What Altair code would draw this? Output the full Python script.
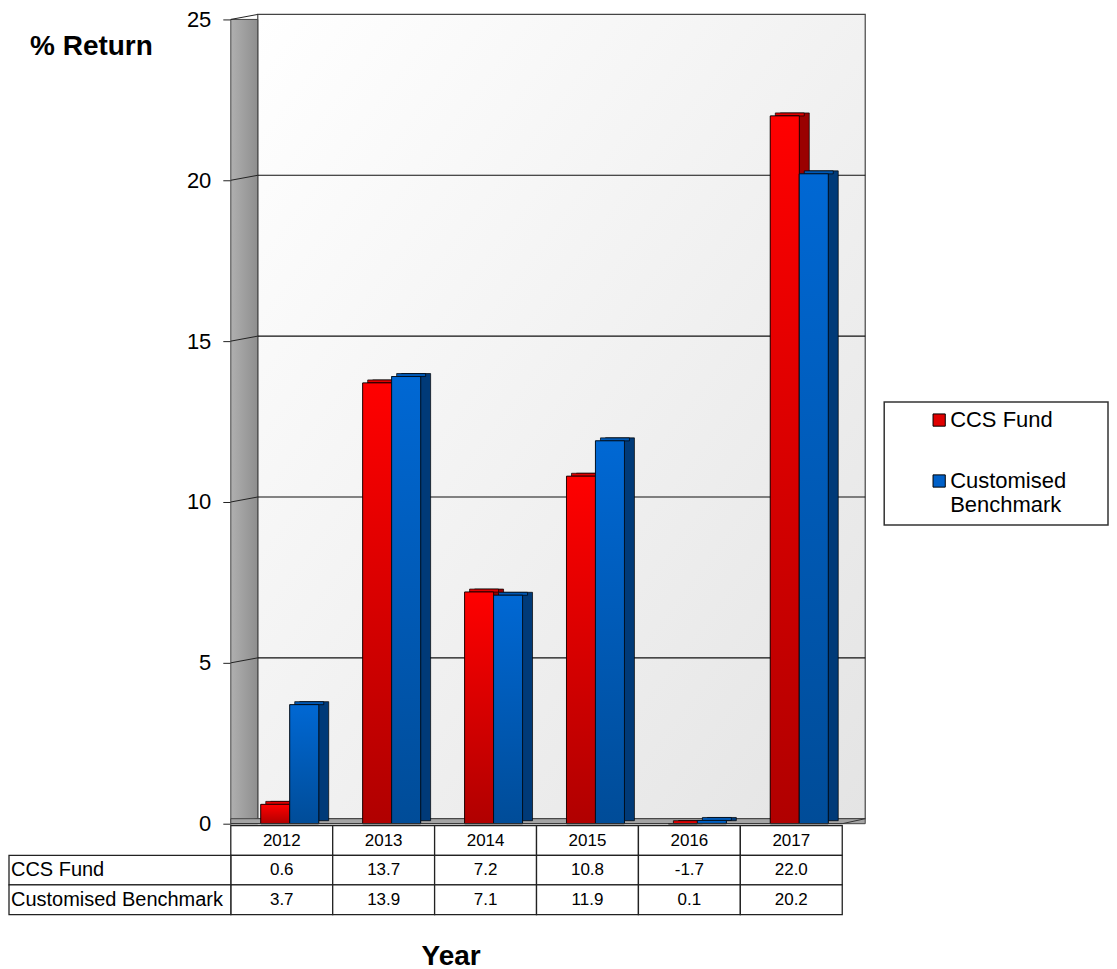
import altair as alt
import pandas as pd

# ---------------- data ----------------
years = ["2012", "2013", "2014", "2015", "2016", "2017"]
ccs_fund = [0.6, 13.7, 7.2, 10.8, -1.7, 22.0]
benchmark = [3.7, 13.9, 7.1, 11.9, 0.1, 20.2]
series_names = ["CCS Fund", "Customised Benchmark"]
y_ticks = [0, 5, 10, 15, 20, 25]

FONT = "Liberation Sans"
RED, BLUE = "#e00000", "#0060c8"

bars = pd.DataFrame({
    "year": years * 2,
    "series": [series_names[0]] * len(years) + [series_names[1]] * len(years),
    "value": ccs_fund + benchmark,
})
one = pd.DataFrame({"k": [0]})
ticks_df = pd.DataFrame({"v": y_ticks})
grid_df = pd.DataFrame({"v": y_ticks[1:-1]})

x_scale = alt.Scale(domain=years, paddingInner=0, paddingOuter=0)
y_scale = alt.Scale(domain=[0, 25], clamp=True, nice=False)
X = alt.X("year:N", scale=x_scale, axis=None)

Y_AXIS = alt.Axis(
    values=y_ticks, domain=False, grid=False, tickSize=8, tickColor="#222",
    labelFontSize=22, labelFont=FONT, labelColor="black", labelPadding=12,
    title="% Return", titleAngle=0, titleFont=FONT, titleFontSize=28,
    titleFontWeight="bold", titleColor="black", titleX=-140, titleY=27,
    titleAlign="center", titleBaseline="middle")


def Yq(field):
    return alt.Y(field, type="quantitative", scale=y_scale, axis=Y_AXIS)


def grad(c1, c2, x2=0, y2=1):
    return alt.Gradient(
        gradient="linear",
        stops=[alt.GradientStop(color=c1, offset=0), alt.GradientStop(color=c2, offset=1)],
        x1=0, y1=0, x2=x2, y2=y2,
    )


# ---------------- walls ----------------
back_wall = alt.Chart(one).mark_rect(
    fill=grad("#ffffff", "#e4e4e4", x2=1, y2=1), stroke="#444", strokeWidth=1.2
).encode(x=alt.value(27), x2=alt.value(635), y=alt.value(-5), y2=alt.value(800))

left_wall = alt.Chart(one).mark_rect(
    fill=grad("#b0b0b0", "#8e8e8e", x2=1, y2=0), stroke="#444", strokeWidth=1
).encode(
    x=alt.value(0), x2=alt.value(27), y=alt.value(0), y2=alt.value(805),
)

floor = alt.Chart(one).mark_rect(fill="#a4a4a4", stroke="#444", strokeWidth=1).encode(
    x=alt.value(0), x2=alt.value(635), y=alt.value(800), y2=alt.value(805)
)

grid = alt.Chart(grid_df).mark_rule(color="#111", strokeWidth=1.1, yOffset=-5).encode(
    y=Yq("v"), x=alt.value(27), x2=alt.value(635)
)
slants = alt.Chart(ticks_df).mark_rule(color="#222", strokeWidth=1, y2Offset=-5).encode(
    y=Yq("v"), y2="v:Q", x=alt.value(0), x2=alt.value(27)
)

legend_box = alt.Chart(one).mark_rect(fill="white", stroke="#333", strokeWidth=1.5).encode(
    x=alt.value(654), x2=alt.value(878), y=alt.value(383), y2=alt.value(506)
)

# ---------------- bars ----------------
styles = {
    series_names[0]: dict(dx=-6.5, front=("#ff0000", "#b00000"), side="#9a0000", top="#e00000"),
    series_names[1]: dict(dx=22.5, front=("#0068d4", "#004c98"), side="#003a78", top="#0058b4"),
}
W = 29
bar_layers = []
for s in series_names:
    st = styles[s]
    base = alt.Chart(bars).transform_filter(alt.datum.series == s)
    side = base.mark_bar(width=W, xOffset=st["dx"] + 10, yOffset=-3, y2Offset=-3,
                         color=st["side"], stroke="black", strokeWidth=0.7).encode(
        x=X, y=Yq("value"), y2=alt.datum(0))
    top = base.mark_bar(width=W, xOffset=st["dx"] + 5, yOffset=-3, y2Offset=0,
                        color=st["top"], stroke="black", strokeWidth=0.7).encode(
        x=X, y=Yq("value"), y2="value:Q")
    solid = base.mark_bar(width=W, xOffset=st["dx"], stroke="black", strokeWidth=0.7).encode(
        x=X, y=Yq("value"), y2=alt.datum(0),
        color=alt.Color("series:N", scale=alt.Scale(domain=series_names, range=[RED, BLUE]),
                        legend=alt.Legend(
                            orient="none", legendX=698, legendY=390, title=None,
                            labelFontSize=22, labelFont=FONT, labelColor="black",
                            symbolType="square", symbolSize=150, symbolStrokeColor="black",
                            symbolStrokeWidth=1, symbolOpacity=1, rowPadding=39,
                            labelLimit=300, labelOffset=0,
                            labelExpr="datum.label == 'Customised Benchmark' ? ['Customised', 'Benchmark'] : datum.label")))
    gfront = base.mark_bar(width=W, xOffset=st["dx"], fill=grad(*st["front"]),
                           stroke="black", strokeWidth=0.7).encode(
        x=X, y=Yq("value"), y2=alt.datum(0))
    bar_layers += [side, top, solid, gfront]

front_edge = alt.Chart(one).mark_rule(color="#333", strokeWidth=1).encode(
    x=alt.value(0), x2=alt.value(612), y=alt.value(805))
right_slant = alt.Chart(one).mark_rule(color="#333", strokeWidth=1).encode(
    x=alt.value(612), x2=alt.value(635), y=alt.value(805), y2=alt.value(800))

top_chart = alt.layer(
    back_wall, left_wall, grid, slants, floor, *bar_layers, front_edge, right_slant, legend_box
).properties(width=612, height=805)

# ---------------- table ----------------
row_keys = ["hdr"] + series_names
cells = pd.DataFrame({
    "year": years * 3,
    "row": ["hdr"] * 6 + [series_names[0]] * 6 + [series_names[1]] * 6,
    "text": years + [f"{v:.1f}" for v in ccs_fund] + [f"{v:.1f}" for v in benchmark],
})
labels_df = pd.DataFrame({"row": series_names})
TY = alt.Y("row:N", scale=alt.Scale(domain=row_keys, paddingInner=0, paddingOuter=0), axis=None)
X_AXIS_T = alt.Axis(
    labels=False, ticks=False, domain=False, title="Year", titleFont=FONT,
    titleFontSize=28, titleFontWeight="bold", titleColor="black",
    titleX=220, titleY=42, titleAlign="center", titleBaseline="middle")
TX = alt.X("year:N", scale=x_scale, axis=X_AXIS_T)

cell_rects = alt.Chart(cells).mark_rect(fill="white", stroke="#222", strokeWidth=1.3).encode(
    x=TX, y=TY)
cell_text = alt.Chart(cells).mark_text(font=FONT, fontSize=17, color="black").encode(
    x=TX, y=TY, text="text:N")
label_rects = alt.Chart(labels_df).mark_rect(fill="white", stroke="#222", strokeWidth=1.3).encode(
    x=alt.value(-222), x2=alt.value(0), y=TY)
label_text = alt.Chart(labels_df).mark_text(font=FONT, fontSize=20, color="black", align="left").encode(
    x=alt.value(-220), y=TY, text="row:N")

table = alt.layer(cell_rects, label_rects, cell_text, label_text).properties(width=612, height=89)

chart = alt.vconcat(top_chart, table, spacing=2, bounds="flush").configure_view(
    stroke=None
).properties(padding=0, background="white")

chart.save("out.html", embed_options={"renderer": "svg", "actions": False})
